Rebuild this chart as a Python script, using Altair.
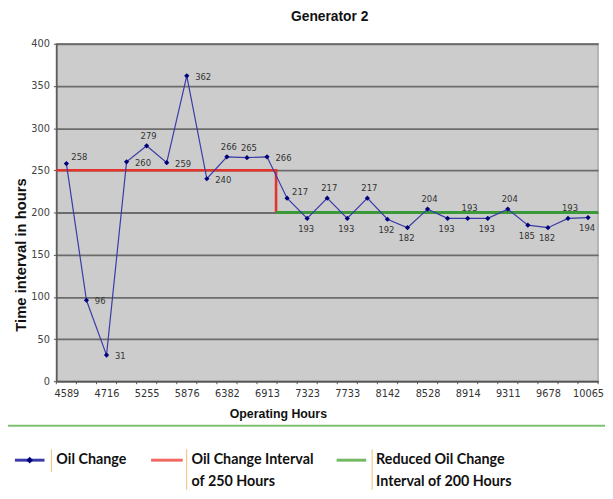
import json
import pandas as pd
import altair as alt

# ---------------- data ----------------
chart_title = "Generator 2"
y_title = "Time interval in hours"
x_title = "Operating Hours"
tick_labels = ["4589", "4716", "5255", "5876", "6382", "6913", "7323",
               "7733", "8142", "8528", "8914", "9311", "9678", "10065"]
oil_change = [258, 96, 31, 260, 279, 259, 362, 240, 266, 265, 266, 217, 193,
              217, 193, 217, 192, 182, 204, 193, 193, 193, 204, 185, 182, 193, 194]
label_side = ["upright", "right", "right", "right", "above", "right", "right",
              "right", "above", "above", "right", "upright", "below", "above",
              "below", "above", "below", "below", "above", "below", "above",
              "below", "above", "below", "below", "above", "below"]
interval_250_idx = [-0.5, 10.45, 10.45]
interval_250_val = [250, 250, 200]
interval_200_idx = [10.45, 26.5]
interval_200_val = [200, 200]
legend_labels = [["Oil Change"],
                 ["Oil Change Interval", "of 250 Hours"],
                 ["Reduced Oil Change", "Interval of 200 Hours"]]

n = len(oil_change)
df = pd.DataFrame({"idx": list(range(n)), "value": oil_change, "side": label_side})
df_250 = pd.DataFrame({"idx": interval_250_idx, "value": interval_250_val,
                       "o": list(range(len(interval_250_idx)))})
df_200 = pd.DataFrame({"idx": interval_200_idx, "value": interval_200_val})
df_ticks = pd.DataFrame({"idx": [i - 0.5 for i in range(n + 1)]})

W, H = 549, 342
NUM_FONT = "Liberation Sans Narrow, DejaVu Sans Condensed, sans-serif"
TITLE_FONT = "Liberation Sans"
LEG_FONT = "Lato"

xs = alt.Scale(domain=[-0.5, n - 0.5], nice=False, zero=False)
ys = alt.Scale(domain=[0, 400], nice=False)

x_axis = alt.Axis(
    values=list(range(0, n, 2)),
    labelExpr=json.dumps(tick_labels) + "[datum.value / 2]",
    ticks=False, grid=False, title=None,
    domainColor="#555555", domainWidth=1.5,
    labelFont=NUM_FONT, labelFontSize=11, labelColor="#333333",
    labelPadding=6, labelFlush=False, labelOverlap=False,
)
y_axis = alt.Axis(
    values=list(range(0, 401, 50)), title=None,
    grid=True, gridColor="#6c6c6c", gridWidth=1.8,
    domainColor="#555555", domainWidth=1.5,
    tickSize=3, tickColor="#555555",
    labelFont=NUM_FONT, labelFontSize=11, labelColor="#444444", labelPadding=4,
)


def X():
    return alt.X("idx:Q", scale=xs, axis=x_axis)


def Y():
    return alt.Y("value:Q", scale=ys, axis=y_axis)


base = alt.Chart(df)

line = base.mark_line(color="#3a3aa8", strokeWidth=1.2).encode(x=X(), y=Y())
pts = base.mark_point(shape="diamond", filled=True, size=28, color="#00007a", opacity=1).encode(x=X(), y=Y())

offsets = {"right": (8.5, 1, "left"), "upright": (5, -6.5, "left"),
           "above": (2, -10, "center"), "below": (-1, 11, "center")}
label_layers = []
for side, (dx, dy, al) in offsets.items():
    label_layers.append(
        base.transform_filter(alt.datum.side == side)
        .mark_text(font=NUM_FONT, fontSize=9.5, color="#333333", dx=dx, dy=dy,
                   align=al, baseline="middle")
        .encode(x=X(), y=Y(), text="value:Q")
    )

red = alt.Chart(df_250).mark_line(color="#e2342a", strokeWidth=2.6).encode(
    x=X(), y=Y(), order="o:Q")
green = alt.Chart(df_200).mark_line(color="#3a9a3a", strokeWidth=3).encode(x=X(), y=Y())

ticks = alt.Chart(df_ticks).mark_rule(color="#555555", strokeWidth=1).encode(
    x=X(), y=alt.value(H), y2=alt.value(H + 3))


def txt(s, x, y, size, font=TITLE_FONT, weight="bold", align="center", angle=0, color="#111111"):
    return alt.Chart(pd.DataFrame({"t": [s]})).mark_text(
        font=font, fontSize=size, fontWeight=weight, align=align, baseline="middle",
        angle=angle, color=color
    ).encode(x=alt.value(x), y=alt.value(y), text="t:N")


def seg(x1, x2, y1, y2, color, width):
    return alt.Chart(pd.DataFrame({"a": [0]})).mark_rule(color=color, strokeWidth=width).encode(
        x=alt.value(x1), x2=alt.value(x2), y=alt.value(y1), y2=alt.value(y2))


deco = [
    txt(chart_title, 277, -27, 14),
    txt(y_title, -36, 214, 15, angle=270),
    txt(x_title, 225, 375, 12.5),
    seg(-50, 560, 387, 387, "#7cc070", 2),
    # legend
    seg(-42, -12, 422, 422, "#3a3aa8", 3),
    alt.Chart(pd.DataFrame({"a": [0]})).mark_point(shape="diamond", filled=True, size=45,
                                                    color="#00007a", opacity=1).encode(
        x=alt.value(-27), y=alt.value(422)),
    seg(-5, -5, 411, 434, "#f2c88a", 1.2),
    txt(legend_labels[0][0], 0, 422, 14.5, font=LEG_FONT, align="left"),
    seg(96, 128, 422, 422, "#f06a62", 3),
    seg(132, 132, 411, 452, "#f2c88a", 1.2),
    txt(legend_labels[1][0], 137, 422, 14.5, font=LEG_FONT, align="left"),
    txt(legend_labels[1][1], 137, 444, 14.5, font=LEG_FONT, align="left"),
    seg(284, 314, 422, 422, "#74b864", 3),
    seg(320, 320, 411, 452, "#f2c88a", 1.2),
    txt(legend_labels[2][0], 324, 422, 14.5, font=LEG_FONT, align="left"),
    txt(legend_labels[2][1], 324, 444, 14.5, font=LEG_FONT, align="left"),
]

chart = alt.layer(
    ticks, red, green, line, pts, *label_layers, *deco
).properties(
    width=W, height=H,
    autosize=alt.AutoSizeParams(type="none"),
    padding={"left": 49, "top": 33, "right": 7, "bottom": 108},
    background="white",
).configure_view(fill="#cccccc", stroke="#a8a8a8", strokeWidth=1.5)

chart.save("out.html", embed_options={"renderer": "svg", "actions": False})
